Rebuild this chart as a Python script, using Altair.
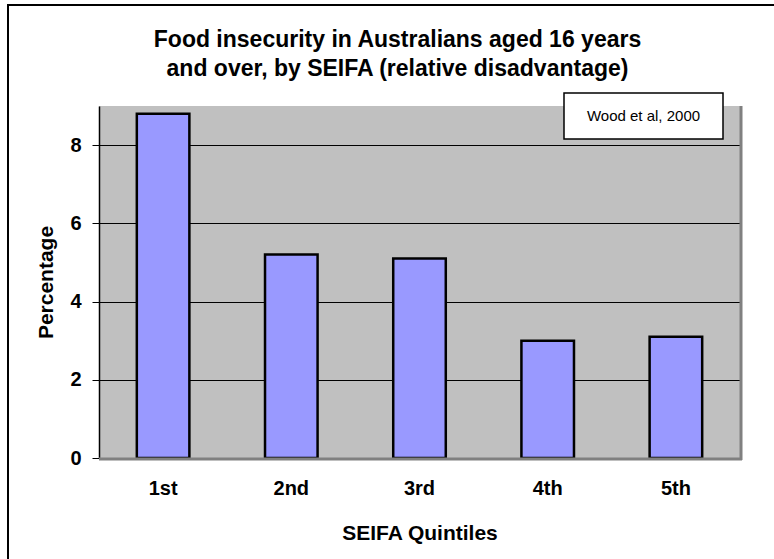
import altair as alt
import pandas as pd

quintiles = ["1st", "2nd", "3rd", "4th", "5th"]
percentages = [8.8, 5.2, 5.1, 3.0, 3.1]
y_ticks = [0, 2, 4, 6, 8]
title_lines = ["Food insecurity in Australians aged 16 years",
               "and over, by SEIFA (relative disadvantage)"]
note_text = ["Wood et al, 2000"]

df = pd.DataFrame({"quintile": quintiles, "pct": percentages})
FONT = "Liberation Sans"
W, H = 641, 352

one = alt.Data(values=[{"k": 0}])

border = alt.Chart(one).mark_rect(fill=None, stroke="#000000", strokeWidth=2).encode(
    x=alt.value(-91), x2=alt.value(720), y=alt.value(-101), y2=alt.value(480)
)

bars = alt.Chart(df).mark_bar(color="#9999FF", stroke="#000000", strokeWidth=2.5).encode(
    x=alt.X("quintile:N", sort=quintiles,
            scale=alt.Scale(paddingInner=0.59, paddingOuter=0.295),
            axis=alt.Axis(title="SEIFA Quintiles", labelAngle=0, ticks=False, domain=False,
                          labelPadding=20, titlePadding=24)),
    y=alt.Y("pct:Q", scale=alt.Scale(domain=[0, 9], nice=False),
            axis=alt.Axis(title="Percentage", values=y_ticks, grid=True, gridColor="#000000",
                          gridWidth=1, domainColor="#000000", domainWidth=1.5,
                          tickColor="#000000", tickSize=7, labelPadding=11, titlePadding=13)),
)

shadow_r = alt.Chart(one).mark_rule(color="#808080", strokeWidth=3).encode(
    x=alt.value(W + 1), y=alt.value(0), y2=alt.value(H + 2)
)
shadow_b = alt.Chart(one).mark_rule(color="#808080", strokeWidth=3).encode(
    x=alt.value(0), x2=alt.value(W + 2), y=alt.value(H + 1)
)

note_box = alt.Chart(one).mark_rect(fill="#FFFFFF", stroke="#000000", strokeWidth=1.5).encode(
    x=alt.value(465), x2=alt.value(624), y=alt.value(-13), y2=alt.value(33)
)
note = alt.Chart(alt.Data(values=[{"t": note_text[0]}])).mark_text(
    font=FONT, fontSize=15, color="#000000", align="center", baseline="middle"
).encode(x=alt.value(544.5), y=alt.value(10), text="t:N")

chart = alt.layer(border, bars, shadow_r, shadow_b, note_box, note).properties(
    width=W, height=H, background="#FFFFFF",
    title=alt.TitleParams(text=title_lines, font=FONT, fontSize=23, fontWeight="bold",
                          color="#000000", anchor="middle", dx=-22, offset=0, dy=77,
                          lineHeight=29),
    autosize=alt.AutoSizeParams(type="none"),
    padding={"left": 99, "top": 106, "right": 34, "bottom": 101},
).configure_view(fill="#C0C0C0", stroke=None).configure_axis(
    labelFont=FONT, labelFontSize=20, labelFontWeight="bold", labelColor="#000000",
    titleFont=FONT, titleFontSize=21, titleFontWeight="bold", titleColor="#000000",
)

chart.save("out.html", embed_options={"renderer": "svg", "actions": False})
